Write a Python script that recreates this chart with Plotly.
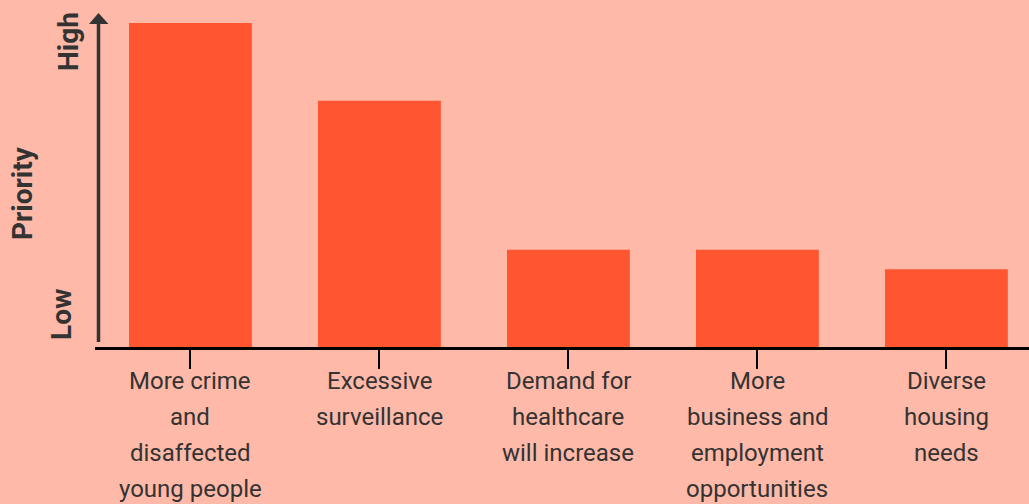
import plotly.graph_objects as go

# data
categories = [
    "More crime<br>and<br>disaffected<br>young people",
    "Excessive<br>surveillance",
    "Demand for<br>healthcare<br>will increase",
    "More<br>business and<br>employment<br>opportunities",
    "Diverse<br>housing<br>needs",
]
priority = [100, 76, 30, 30, 24]

BG = "#FFB9A8"
BAR = "#FF5631"
INK = "#333333"

# page geometry (pixels) used to place decorations
W, H = 1029, 504
L, B = 95, 157
PH = H - B  # plot height


def px(x):
    return (x - L) / (W - L)


def py(y):
    return (PH - y) / PH


fig = go.Figure()
fig.add_trace(go.Bar(
    x=list(range(len(categories))),
    y=priority,
    marker=dict(color=BAR, line=dict(width=0)),
    hoverinfo="skip",
))

# category labels, one annotation per line for 36px line spacing
annotations = []
for i, cat in enumerate(categories):
    for j, line in enumerate(cat.split("<br>")):
        annotations.append(dict(
            x=i, xref="x", y=0, yref="paper",
            yanchor="middle", xanchor="center",
            yshift=-34 - 36 * j,
            text=line, showarrow=False,
            font=dict(family="Roboto", size=24, color=INK),
        ))

bold = dict(family="Roboto", size=28, color=INK, weight="bold")
for x, y, txt in [(68, 42, "High"), (61, 314, "Low"), (22, 193, "Priority")]:
    annotations.append(dict(
        x=px(x), y=py(y), xref="paper", yref="paper",
        xanchor="center", yanchor="middle",
        text=txt, textangle=-90, showarrow=False, font=bold,
    ))

shapes = [
    dict(type="line", xref="paper", yref="paper",
         x0=px(98.5), x1=px(98.5), y0=py(342), y1=py(22),
         line=dict(color=INK, width=3.5)),
    dict(type="path", xref="paper", yref="paper",
         path=f"M {px(89)} {py(24)} L {px(108.5)} {py(24)} L {px(98.5)} {py(13)} Z",
         fillcolor=INK, line=dict(color=INK, width=0)),
]

fig.update_layout(
    width=W, height=H,
    paper_bgcolor=BG, plot_bgcolor=BG,
    margin=dict(l=L, r=0, t=0, b=B),
    bargap=0.35,
    showlegend=False,
    xaxis=dict(
        range=[-0.505, 4.437],
        showgrid=False, zeroline=False,
        showline=True, linecolor="black", linewidth=2.5,
        ticks="outside", ticklen=19, tickwidth=2, tickcolor="black",
        tickvals=list(range(len(categories))),
        showticklabels=False,
        fixedrange=True,
    ),
    yaxis=dict(
        range=[0, 107.1], visible=False, fixedrange=True,
    ),
    annotations=annotations,
    shapes=shapes,
)

fig.write_html("out.html", post_script="document.body.style.margin='0';",
               config={"displayModeBar": False})
